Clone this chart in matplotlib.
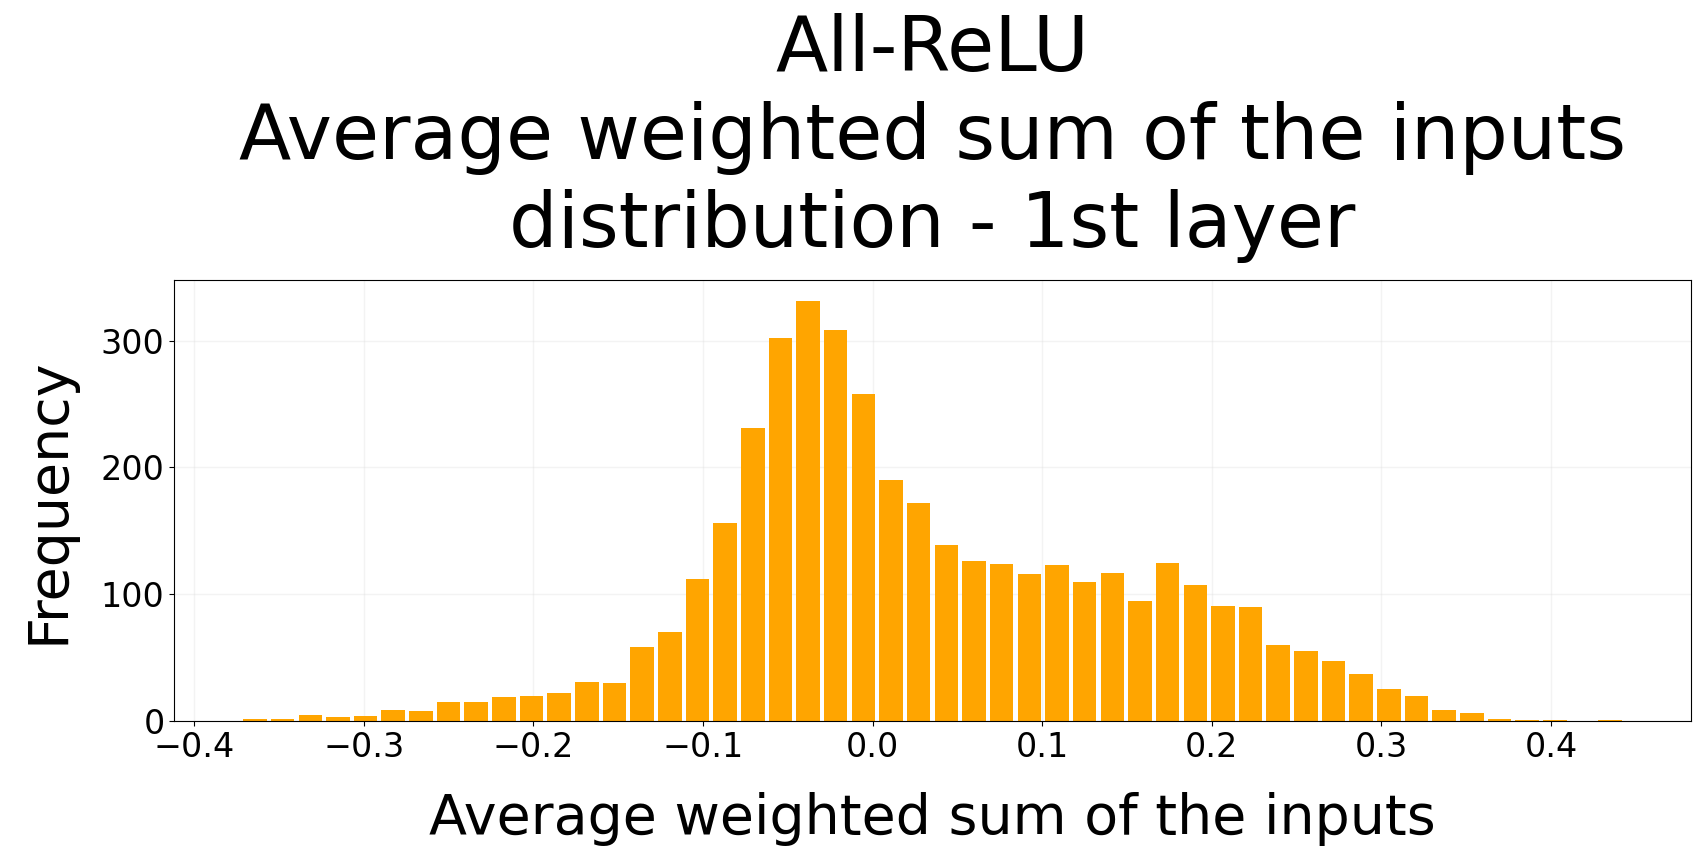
import numpy as np
import matplotlib
matplotlib.use("Agg")
import matplotlib.pyplot as plt

# histogram counts, 50 equal bins
bin_lo = -0.3723
bin_hi = 0.4430
counts = [2, 2, 5, 3, 4, 9, 8, 15, 15, 19,
          20, 22, 31, 30, 58, 70, 112, 156, 231, 302,
          331, 308, 258, 190, 172, 139, 126, 124, 116, 123,
          110, 117, 95, 125, 107, 91, 90, 60, 55, 47,
          37, 25, 20, 9, 6, 2, 1, 1, 0, 1]

title = "All-ReLU\nAverage weighted sum of the inputs\ndistribution - 1st layer"
xlab = "Average weighted sum of the inputs"
ylab = "Frequency"

edges = np.linspace(bin_lo, bin_hi, len(counts) + 1)
centers = (edges[:-1] + edges[1:]) / 2

fig = plt.figure(figsize=(17.07, 8.63), dpi=100)
ax = fig.add_axes([0.1021, 0.1645, 0.8884, 0.5107])

ax.hist(centers, bins=edges, weights=counts, rwidth=0.85, color="orange")

ax.set_axisbelow(True)
ax.grid(True, color="#dddddd", alpha=0.35, linewidth=1)
ax.set_title(title, fontsize=55, pad=24, linespacing=1.24)
ax.set_xlabel(xlab, fontsize=40, labelpad=20)
ax.set_ylabel(ylab, fontsize=40, labelpad=18)
ax.tick_params(axis="both", labelsize=24)
ax.set_yticks([0, 100, 200, 300])

fig.savefig("out.png", dpi=100)
